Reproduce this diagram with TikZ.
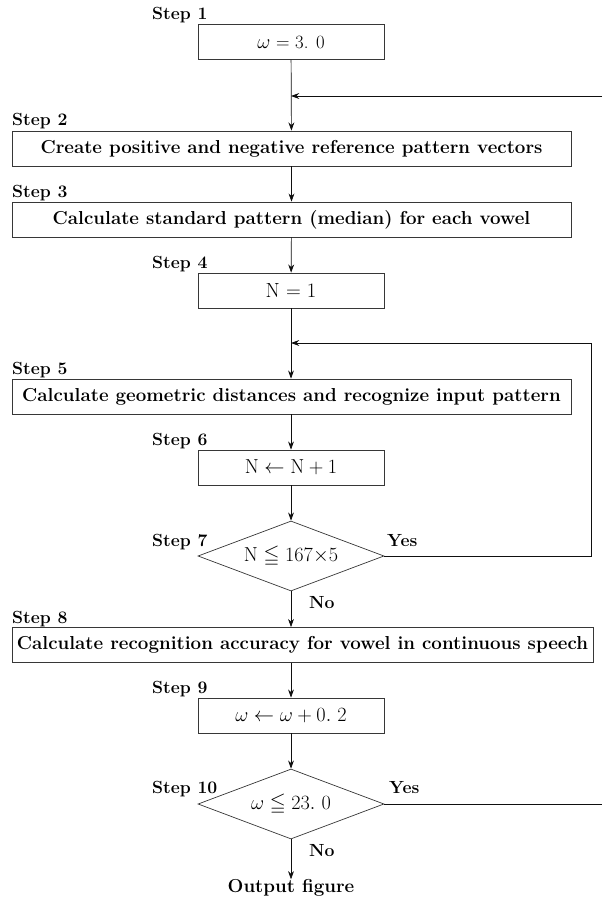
\documentclass[tikz,border=0pt]{standalone}
\usepackage{amsmath,amssymb}
\usepackage{tikz}
\usetikzlibrary{arrows.meta,positioning,calc,shapes.geometric}
\definecolor{flowline}{RGB}{15,15,15}
\definecolor{flowedge}{RGB}{55,55,55}
\newcommand{\flowfont}{\fontsize{15}{18}\selectfont}
\newcommand{\boxfont}{\fontsize{16}{19}\selectfont}
\newcommand{\calcfont}{\fontsize{17.5}{20}\selectfont}
\tikzset{
  narrowbox/.style={
    draw=flowedge,
    line width=0.6pt,
    minimum width=5.58cm,
    minimum height=1.05cm,
    inner sep=0pt,
    font=\calcfont
  },
  widebox/.style={
    draw=flowedge,
    line width=0.6pt,
    minimum width=16.77cm,
    minimum height=1.05cm,
    inner sep=0pt,
    font=\boxfont\bfseries
  },
  decision/.style={
    diamond,
    aspect=2.66,
    draw=flowedge,
    line width=0.6pt,
    minimum width=5.58cm,
    minimum height=2.1cm,
    inner sep=0pt,
    font=\calcfont
  },
  steplabel/.style={font=\flowfont\bfseries, inner sep=0pt, anchor=base west},
  answer/.style={font=\flowfont\bfseries, inner sep=0pt, anchor=base west},
  arr/.style={-{Stealth[length=7pt,width=5pt]}, line width=0.6pt, flowline},
  link/.style={line width=0.6pt, flowline}
}

\begin{document}
\begin{tikzpicture}[x=0.03cm, y=-0.03cm]
  \useasboundingbox (0,0) rectangle (602,902);
  % process boxes and decisions
  \node[narrowbox, font=\boxfont] (b1) at (291,42) {$\omega$ = 3. 0};
  \node[widebox] (b2) at (291.5,148.5) {Create positive and negative reference pattern vectors};
  \node[widebox] (b3) at (291.5,219.5) {Calculate standard pattern (median) for each vowel};
  \node[narrowbox] (b4) at (291,290.5) {N = 1};
  \node[widebox] (b5) at (291.5,396.5) {Calculate geometric distances and recognize input pattern};
  \node[narrowbox] (b6) at (291,467.5) {$\mathrm{N} \leftarrow \mathrm{N} + 1$};
  \node[decision] (d7) at (291,556) {$\mathrm{N} \leqq 167{\times}5$};
  \node[widebox, minimum width=17.43cm] (b8) at (302.5,645) {Calculate recognition accuracy for vowel in continuous speech};
  \node[narrowbox] (b9) at (291,715.5) {$\omega \leftarrow \omega + 0.\ 2$};
  \node[decision] (d10) at (291,804) {$\omega \leqq 23.\ 0$};
  \node[font=\boxfont\bfseries, inner sep=0pt] (out) at (291,888) {Output figure};
  % step labels
  \node[steplabel] (s1) at (152,20) {Step 1};
  \node[steplabel] (s2) at (12,126) {Step 2};
  \node[steplabel] (s3) at (12,197) {Step 3};
  \node[steplabel] (s4) at (152,268) {Step 4};
  \node[steplabel] (s5) at (12,374) {Step 5};
  \node[steplabel] (s6) at (152,445) {Step 6};
  \node[steplabel] (s7) at (152,546) {Step 7};
  \node[steplabel] (s8) at (12,623) {Step 8};
  \node[steplabel] (s9) at (152,693) {Step 9};
  \node[steplabel] (s10) at (152,793) {Step 10};
  \node[answer] (y7) at (387,546) {Yes};
  \node[answer] (n7) at (309,608) {No};
  \node[answer] (y10) at (389,793) {Yes};
  \node[answer] (n10) at (309,856) {No};
  % junctions and loose ends
  \coordinate (rt) at (602,96);
  \coordinate (rb) at (602,804);
  \coordinate (j1) at (b1.south |- rt);
  \coordinate (j2) at (291,343);
  % connectors
  \draw[arr] (b1) -- (b2);
  \draw[arr] (rt) -- (j1);
  \draw[arr] (b2) -- (b3);
  \draw[arr] (b3) -- (b4);
  \draw[arr] (b4) -- (b4.south |- b5.north);
  \draw[arr] (d7.east) -- ++(207,0) |- (j2);
  \draw[arr] (b5.south -| b6.north) -- (b6);
  \draw[arr] (b6) -- (d7);
  \draw[arr] (d7) -- (d7.south |- b8.north);
  \draw[arr] (b9.north |- b8.south) -- (b9);
  \draw[arr] (b9) -- (d10);
  \draw[arr] (d10) -- (out);
  \draw[link] (d10.east) -- (rb);
\end{tikzpicture}
\end{document}
